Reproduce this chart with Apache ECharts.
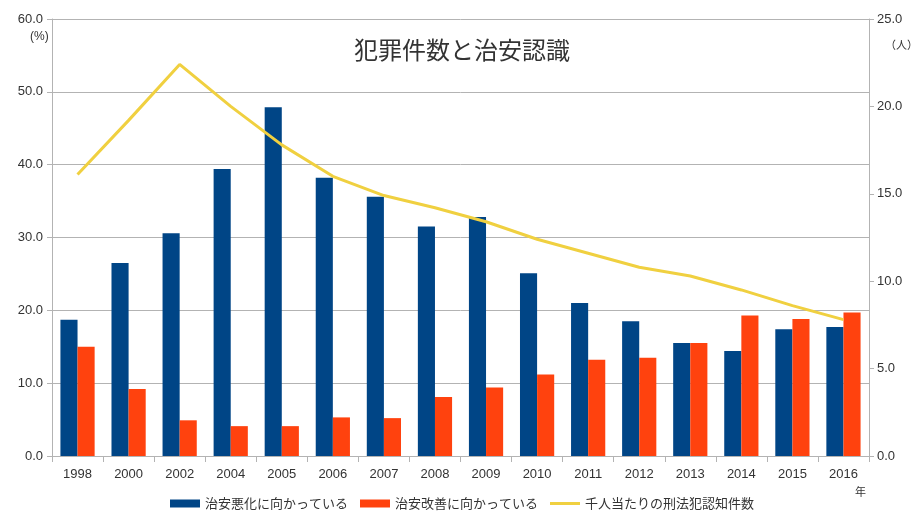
<!DOCTYPE html>
<html><head><meta charset="utf-8">
<script src="https://cdn.jsdelivr.net/npm/echarts@6/dist/echarts.min.js"></script>
<style>html,body{margin:0;padding:0;background:#fff}#c{width:924px;height:520px}</style>
</head><body><div id="c"></div>
<script>
const years = ['1998','2000','2002','2004','2005','2006','2007','2008','2009','2010','2011','2012','2013','2014','2015','2016'];
const worsening = [18.7,26.5,30.6,39.4,47.9,38.2,35.6,31.5,32.8,25.1,21.0,18.5,15.5,14.4,17.4,17.7];
const improving = [15.0,9.2,4.9,4.1,4.1,5.3,5.2,8.1,9.4,11.2,13.2,13.5,15.5,19.3,18.8,19.7];
const crimesPer1000 = [16.1,19.2,22.4,20.0,17.8,16.0,14.9,14.2,13.4,12.4,11.6,10.8,10.3,9.5,8.6,7.8];
const leftTicks = [0,10,20,30,40,50,60];
const rightTicks = [0,5,10,15,20,25];
const seriesNames = ['治安悪化に向かっている','治安改善に向かっている','千人当たりの刑法犯認知件数'];

const FONT = '"Liberation Sans","DejaVu Sans","Noto Sans CJK JP",sans-serif';
const CJK = '"Noto Sans CJK JP","DejaVu Sans",sans-serif';
const chart = echarts.init(document.getElementById('c'), null, {renderer:'canvas'});
chart.setOption({
  animation:false,
  backgroundColor:'#fff',
  title:{text:'犯罪件数と治安認識', left:'center', top:33,
    textStyle:{fontFamily:CJK, fontSize:24, fontWeight:'normal', color:'#333'}},
  legend:{bottom:5, left:'center', itemWidth:30, itemHeight:8, itemGap:12, symbolKeepAspect:true,
    textStyle:{fontFamily:CJK, fontSize:13, color:'#333'},
    data:[{name:seriesNames[0], icon:'rect'},{name:seriesNames[1], icon:'rect'},
          {name:seriesNames[2], icon:'path://M0,0H30V3H0Z', itemStyle:{color:'#f0d040'}}]},
  grid:{left:52, right:55, top:19, bottom:64, containLabel:false},
  xAxis:{type:'category', data:years, boundaryGap:true,
    axisLine:{lineStyle:{color:'#b3b3b3'}},
    axisTick:{show:true, alignWithLabel:false, length:6, lineStyle:{color:'#b3b3b3'}},
    axisLabel:{fontFamily:FONT, fontSize:13, color:'#333', margin:12}},
  yAxis:[
    {type:'value', min:0, max:60, interval:10, position:'left',
     axisLine:{show:true, lineStyle:{color:'#b3b3b3'}},
     axisTick:{show:true, length:5, lineStyle:{color:'#b3b3b3'}},
     splitLine:{lineStyle:{color:'#b3b3b3'}},
     axisLabel:{fontFamily:FONT, fontSize:13, color:'#333', margin:9, formatter:v=>v.toFixed(1)}},
    {type:'value', min:0, max:25, interval:5, position:'right',
     axisLine:{show:true, lineStyle:{color:'#b3b3b3'}},
     axisTick:{show:true, length:5, lineStyle:{color:'#b3b3b3'}},
     splitLine:{show:false},
     axisLabel:{fontFamily:FONT, fontSize:13, color:'#333', margin:8, formatter:v=>v.toFixed(1)}}
  ],
  series:[
    {name:seriesNames[0], type:'bar', data:worsening, yAxisIndex:0, barGap:'0%', barCategoryGap:'33%',
     itemStyle:{color:'#004586'}},
    {name:seriesNames[1], type:'bar', data:improving, yAxisIndex:0, barGap:'0%', barCategoryGap:'33%',
     itemStyle:{color:'#ff420e'}},
    {name:seriesNames[2], type:'line', data:crimesPer1000, yAxisIndex:1, symbol:'none',
     lineStyle:{color:'#f0d040', width:3}, itemStyle:{color:'#f0d040'}}
  ],
  graphic:[
    {type:'text', left:30, top:31, style:{text:'(%)', font:'12px '+FONT, fill:'#333'}},
    {type:'text', left:885, top:39, style:{text:'（人）', font:'11px '+CJK, fill:'#333'}},
    {type:'text', left:855, top:486, style:{text:'年', font:'11px '+CJK, fill:'#333'}}
  ]
});
</script></body></html>
